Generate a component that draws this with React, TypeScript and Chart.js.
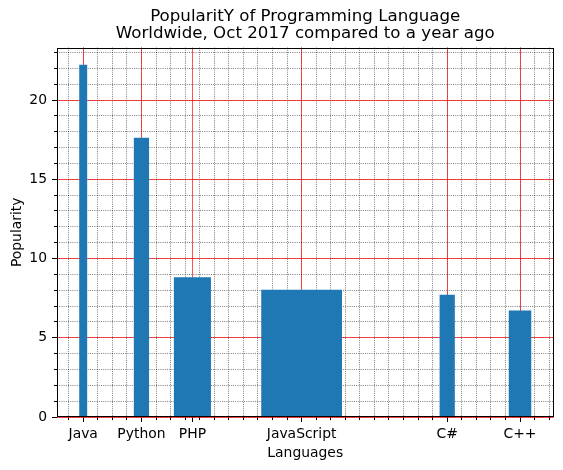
import React, { useEffect, useRef } from 'react';
import { Chart, registerables } from 'chart.js';

Chart.register(...registerables);

const languages = ['Java', 'Python', 'PHP', 'JavaScript', 'C#', 'C++'];
const positions = [0, 0.8, 1.5, 3.0, 5.0, 6.0];
const popularity = [22.2, 17.6, 8.8, 8.0, 7.7, 6.7];
const barWidths = [0.1, 0.2, 0.5, 1.1, 0.2, 0.3];
const yTickValues = [0, 5, 10, 15, 20];
const titleLines = ['PopularitY of Programming Language', 'Worldwide, Oct 2017 compared to a year ago'];
const xLabel = 'Languages';
const yLabel = 'Popularity';

const X_MINOR_STEP = 0.2;
const Y_MINOR_STEP = 1;
const FONT = 'DejaVu Sans';
const BAR_COLOR = '#1f77b4';
const MAJOR_GRID = 'rgba(255,0,0,0.85)';
const MINOR_GRID = 'rgba(0,0,0,0.5)';

const lo = Math.min(...positions.map((p, i) => p - barWidths[i] / 2));
const hi = Math.max(...positions.map((p, i) => p + barWidths[i] / 2));
const xMargin = (hi - lo) * 0.05;
const X_MIN = lo - xMargin;
const X_MAX = hi + xMargin;
const Y_MIN = 0;
const Y_MAX = Math.max(...popularity) * 1.05;

function minorTicks(origin: number, step: number, min: number, max: number) {
  const out: { value: number }[] = [];
  const k0 = Math.ceil((min - origin) / step - 1e-9);
  const k1 = Math.floor((max - origin) / step + 1e-9);
  for (let k = k0; k <= k1; k++) {
    out.push({ value: Math.round((origin + k * step) * 1e6) / 1e6 });
  }
  return out;
}

const framePlugin = {
  id: 'frame',
  afterDraw(chart: any) {
    const { ctx, chartArea } = chart;
    const l = Math.round(chartArea.left) + 0.5;
    const t = Math.round(chartArea.top) + 0.5;
    const r = Math.round(chartArea.right) - 0.5;
    const b = Math.round(chartArea.bottom) - 0.5;
    ctx.save();
    ctx.strokeStyle = '#000';
    ctx.lineWidth = 1;
    ctx.strokeRect(l, t, r - l, b - t);
    ctx.restore();
  },
};

export default function App() {
  const ref = useRef<HTMLCanvasElement>(null);

  useEffect(() => {
    const canvas = ref.current;
    if (!canvas) return;
    const tickFont = { family: FONT, size: 13.9, lineHeight: 1.2 };
    const chart = new Chart(canvas, {
      type: 'bar',
      data: {
        datasets: languages.map((lang, i) => ({
          label: lang,
          data: [{ x: positions[i], y: popularity[i] }],
          backgroundColor: BAR_COLOR,
          borderWidth: 0,
          grouped: true,
          skipNull: true,
          xAxisID: 'x',
          yAxisID: 'y',
        })) as any,
      },
      options: {
        responsive: false,
        animation: false,
        events: [],
        layout: { padding: { left: 0, right: 9.5, top: 0, bottom: 0 } },
        plugins: {
          legend: { display: false },
          tooltip: { enabled: false },
          title: {
            display: true,
            text: titleLines,
            fullSize: false,
            color: '#000',
            font: { family: FONT, size: 16.67, weight: 'normal', lineHeight: 1.0 },
            padding: { top: 8.7, bottom: 5.5 },
          },
        },
        scales: {
          x2: {
            type: 'linear',
            position: 'bottom',
            min: X_MIN,
            max: X_MAX,
            offset: false,
            weight: 0,
            z: 0,
            afterBuildTicks: (s: any) => {
              s.ticks = minorTicks(positions[0], X_MINOR_STEP, X_MIN, X_MAX);
            },
            afterFit: (s: any) => {
              s.height = 0;
            },
            ticks: { display: false },
            grid: {
              offset: false,
              color: MINOR_GRID,
              lineWidth: 1,
              tickColor: '#000',
              tickLength: 3,
              tickWidth: 1,
            },
            border: { display: false, dash: [1, 1.2] },
          },
          x: {
            type: 'linear',
            position: 'bottom',
            min: X_MIN,
            max: X_MAX,
            offset: false,
            weight: 1,
            z: 1,
            afterBuildTicks: (s: any) => {
              s.ticks = positions.map((v) => ({ value: v }));
            },
            afterFit: (s: any) => {
              s.height = 53;
            },
            ticks: {
              autoSkip: false,
              maxRotation: 0,
              minRotation: 0,
              color: '#000',
              font: tickFont,
              padding: 4,
              callback: (v: any) => languages[positions.indexOf(Number(v))] ?? '',
            },
            grid: {
              offset: false,
              color: MAJOR_GRID,
              lineWidth: 0.8,
              tickColor: '#000',
              tickLength: 5,
              tickWidth: 1,
            },
            border: { display: false },
            title: {
              display: true,
              text: xLabel,
              color: '#000',
              font: tickFont,
              padding: { top: 0, bottom: 8 },
            },
          },
          y2: {
            type: 'linear',
            position: 'left',
            min: Y_MIN,
            max: Y_MAX,
            weight: 0,
            z: 0,
            afterBuildTicks: (s: any) => {
              s.ticks = minorTicks(0, Y_MINOR_STEP, Y_MIN, Y_MAX);
            },
            afterFit: (s: any) => {
              s.width = 0;
            },
            ticks: { display: false },
            grid: {
              color: MINOR_GRID,
              lineWidth: 1,
              tickColor: '#000',
              tickLength: 3,
              tickWidth: 1,
            },
            border: { display: false, dash: [1, 1.2] },
          },
          y: {
            type: 'linear',
            position: 'left',
            min: Y_MIN,
            max: Y_MAX,
            weight: 1,
            z: 1,
            afterBuildTicks: (s: any) => {
              s.ticks = yTickValues.map((v) => ({ value: v }));
            },
            afterFit: (s: any) => {
              s.width = 57;
            },
            ticks: {
              color: '#000',
              font: tickFont,
              padding: 5,
              callback: (v: any) => String(v),
            },
            grid: {
              color: MAJOR_GRID,
              lineWidth: 0.8,
              tickColor: '#000',
              tickLength: 5,
              tickWidth: 1,
            },
            border: { display: false },
            title: {
              display: true,
              text: yLabel,
              color: '#000',
              font: tickFont,
              padding: { top: 9, bottom: 0 },
            },
          },
        },
      } as any,
      plugins: [framePlugin],
    });

    const xs: any = chart.scales.x;
    chart.data.datasets.forEach((ds: any, i: number) => {
      ds.barThickness = Math.abs(
        xs.getPixelForValue(positions[i] + barWidths[i] / 2) -
          xs.getPixelForValue(positions[i] - barWidths[i] / 2)
      );
    });
    chart.update();

    return () => chart.destroy();
  }, []);

  return (
    <div style={{ position: 'absolute', left: 0, top: 0, width: 563, height: 470, background: '#fff' }}>
      <canvas ref={ref} width={563} height={470} style={{ display: 'block', width: 563, height: 470 }} />
    </div>
  );
}
